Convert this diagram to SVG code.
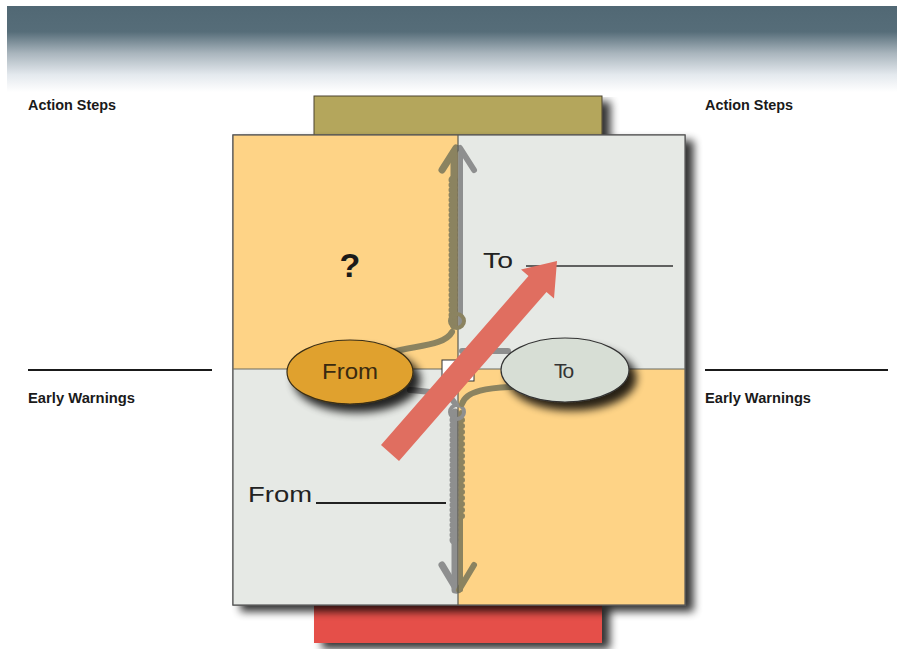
<svg xmlns="http://www.w3.org/2000/svg" width="899" height="649" viewBox="0 0 899 649">
<defs>
<linearGradient id="hdr" x1="0" y1="0" x2="0" y2="1">
<stop offset="0" stop-color="#516874"/>
<stop offset="0.3" stop-color="#566d79"/>
<stop offset="0.55" stop-color="#a9b5bd"/>
<stop offset="0.8" stop-color="#e4e9ee"/>
<stop offset="1" stop-color="#ffffff"/>
</linearGradient>
<filter id="sh" x="-10%" y="-10%" width="130%" height="130%">
<feGaussianBlur in="SourceAlpha" stdDeviation="4"/>
<feOffset dx="8" dy="6"/>
<feComponentTransfer><feFuncA type="linear" slope="0.8"/></feComponentTransfer>
<feMerge><feMergeNode/><feMergeNode in="SourceGraphic"/></feMerge>
</filter>
<filter id="esh" x="-30%" y="-30%" width="170%" height="180%">
<feGaussianBlur in="SourceAlpha" stdDeviation="4"/>
<feOffset dx="7" dy="8"/>
<feComponentTransfer><feFuncA type="linear" slope="0.85"/></feComponentTransfer>
<feMerge><feMergeNode/><feMergeNode in="SourceGraphic"/></feMerge>
</filter>
<style>
.lbl{font-family:"Liberation Sans",Arial,sans-serif;font-weight:bold;font-size:15px;fill:#1a1a1a}
.big{font-family:"Liberation Sans",Arial,sans-serif;font-size:22px;fill:#222}
.ol{fill:none;stroke:#8b8360;stroke-linecap:round}
.gr{fill:none;stroke:#8e8f8f;stroke-linecap:round}
.rule{stroke:#1a1a1a;stroke-width:2}
</style>
</defs>

<rect x="7" y="6" width="890" height="86" fill="url(#hdr)"/>

<g id="labels">
<text class="lbl" x="28" y="110" textLength="88" lengthAdjust="spacingAndGlyphs">Action Steps</text>
<text class="lbl" x="705" y="110" textLength="88" lengthAdjust="spacingAndGlyphs">Action Steps</text>
<text class="lbl" x="28" y="403" textLength="107" lengthAdjust="spacingAndGlyphs">Early Warnings</text>
<text class="lbl" x="705" y="403" textLength="106" lengthAdjust="spacingAndGlyphs">Early Warnings</text>
<line class="rule" x1="28" y1="370" x2="212" y2="370"/>
<line class="rule" x1="705" y1="370" x2="888" y2="370"/>
</g>

<g id="top-tab"><rect x="314" y="96" width="288" height="42" fill="#b4a65b" stroke="#4a4530" stroke-width="1" filter="url(#sh)"/></g>
<g id="bottom-tab"><rect x="314" y="600" width="288" height="43" fill="#e5504a" filter="url(#sh)"/></g>

<g id="panel">
<rect x="233" y="135" width="452" height="470" fill="#e6e9e5" stroke="#555" stroke-width="1.2" filter="url(#sh)"/>
<rect x="233" y="135" width="225" height="234" fill="#fed386"/>
<rect x="233" y="369" width="225" height="236" fill="#e6e9e5"/>
<rect x="458" y="135" width="227" height="234" fill="#e6e9e5"/>
<rect x="458" y="369" width="227" height="236" fill="#fed386"/>
<rect x="233" y="135" width="452" height="470" fill="none" stroke="#555" stroke-width="1.2"/>
<line x1="233" y1="369" x2="685" y2="369" stroke="#6b6b60" stroke-width="1"/>
</g>

<g id="q-top-left"><text x="350" y="277" text-anchor="middle" font-family="Liberation Sans,Arial,sans-serif" font-weight="bold" font-size="34" fill="#1a1a1a">?</text></g>
<g id="q-top-right">
<text class="big" x="483" y="268" textLength="30" lengthAdjust="spacingAndGlyphs">To</text>
<line x1="526" y1="266" x2="673" y2="266" stroke="#333" stroke-width="1.3"/>
</g>
<g id="q-bottom-left">
<text class="big" x="248" y="502" textLength="64" lengthAdjust="spacingAndGlyphs">From</text>
<line x1="316" y1="503" x2="446" y2="503" stroke="#222" stroke-width="2"/>
</g>

<g id="connectors">
<!-- up chain arrow -->
<path class="ol" d="M454 326 V152" stroke-width="7"/>
<path class="ol" d="M453 315 V178" stroke-width="9" stroke-dasharray="0 5"/>
<path class="gr" d="M461 326 V152" stroke-width="4"/>
<path class="ol" d="M442 170 L456 148" stroke-width="7"/>
<path class="gr" d="M460 148 L474 170" stroke-width="6"/>
<!-- down chain arrow -->
<path class="gr" d="M455 412 V590" stroke-width="7"/>
<path class="gr" d="M454 420 V545" stroke-width="9" stroke-dasharray="0 5"/>
<path class="ol" d="M461 412 V590" stroke-width="4"/>
<path class="ol" d="M462 420 V520" stroke-width="6" stroke-dasharray="0 6"/>
<path class="gr" d="M442 565 L457 590" stroke-width="7"/>
<path class="ol" d="M459 590 L474 565" stroke-width="6"/>
<line x1="458" y1="135" x2="458" y2="605" stroke="#5b5b50" stroke-width="1.2"/>
<!-- loops -->
<circle cx="457" cy="321" r="7" fill="none" stroke="#8b8360" stroke-width="4"/>
<circle cx="457" cy="412" r="7" fill="none" stroke="#8e8f8f" stroke-width="4"/>
<!-- curves -->
<path class="ol" d="M392 352 C420 345 445 345 452 332" stroke-width="6"/>
<path class="gr" d="M462 351 H508" stroke-width="6"/>
<path class="ol" d="M512 387 C490 388 466 390 462 404" stroke-width="6"/>
<path class="gr" d="M410 390 C430 392 448 392 454 402" stroke-width="6"/>
<rect x="442" y="360" width="32" height="21" fill="#ffffff" stroke="#333" stroke-width="1"/>
</g>

<g id="node-from">
<ellipse cx="350" cy="372" rx="63" ry="32" fill="#e0a12e" stroke="#3a2e14" stroke-width="1.2" filter="url(#esh)"/>
<text x="350" y="379" text-anchor="middle" font-family="Liberation Sans,Arial,sans-serif" font-size="22" fill="#3a2a10" textLength="56" lengthAdjust="spacingAndGlyphs">From</text>
</g>
<g id="node-to">
<ellipse cx="565" cy="370" rx="64" ry="32" fill="#d7ded5" stroke="#333" stroke-width="1.2" filter="url(#esh)"/>
<text x="563" y="378" text-anchor="middle" font-family="Liberation Sans,Arial,sans-serif" font-size="21" fill="#333" letter-spacing="-2">To</text>
</g>

<g id="red-arrow">
<polygon points="381,445 399,461 546.5,292 554,298.5 557,261 521,269.5 528.5,276" fill="#e06e60"/>
</g>
</svg>
